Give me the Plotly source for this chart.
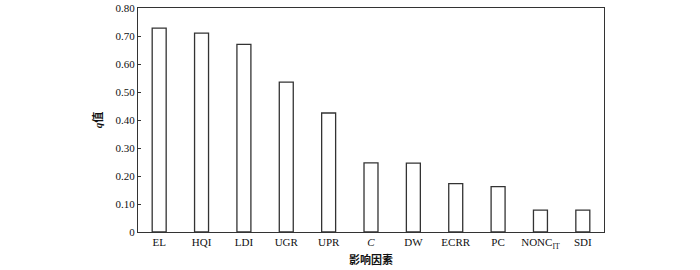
import plotly.graph_objects as go

categories = ["EL", "HQI", "LDI", "UGR", "UPR", "<i>C</i>", "DW", "ECRR", "PC", "NONC<sub>IT</sub>", "SDI"]
q_values = [0.728, 0.710, 0.670, 0.535, 0.425, 0.247, 0.246, 0.173, 0.162, 0.078, 0.078]
y_tickvals = [0, 0.1, 0.2, 0.3, 0.4, 0.5, 0.6, 0.7, 0.8]
y_ticktext = ["0", "0.10", "0.20", "0.30", "0.40", "0.50", "0.60", "0.70", "0.80"]

serif = "Liberation Serif, Times New Roman, serif"
cjk = "Liberation Serif, Noto Sans CJK SC, serif"
fig = go.Figure(go.Bar(
    x=categories, y=q_values, width=0.33,
    marker=dict(color="white", line=dict(color="#333333", width=1.3)),
))
fig.update_layout(
    width=700, height=270,
    margin=dict(l=138, r=96, t=8, b=38, autoexpand=False),
    plot_bgcolor="white", paper_bgcolor="white",
    showlegend=False,
    font=dict(family=serif, size=11, color="#111111"),
)
fig.update_xaxes(
    showline=True, linecolor="#333333", linewidth=1.3, mirror=True,
    ticks="", showgrid=False, automargin=False,
    title=dict(text="<b>影响因素</b>", font=dict(family=cjk, size=11), standoff=6),
)
fig.update_yaxes(
    range=[0, 0.8], tickvals=y_tickvals, ticktext=y_ticktext,
    showline=True, linecolor="#333333", linewidth=1.3, mirror=True,
    ticks="inside", ticklen=3, tickcolor="#333333", showgrid=False, zeroline=False,
    automargin=False,
    title=dict(text="<b><i>q</i>值</b>", font=dict(family=cjk, size=11), standoff=10),
)
fig.write_html("out.html")
